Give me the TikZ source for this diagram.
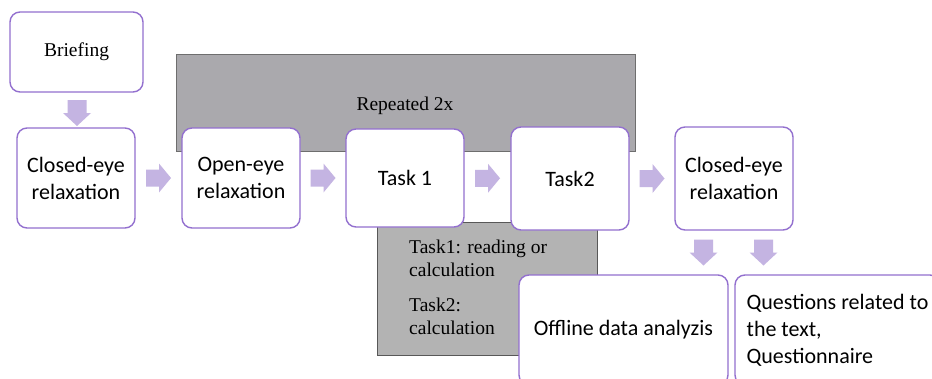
\documentclass[tikz,border=0pt]{standalone}
\usepackage{fontspec}
\setmainfont{Liberation Serif}
\newfontfamily\sansf{Carlito}
\usetikzlibrary{calc}
\definecolor{boxline}{HTML}{9370CF}
\definecolor{arrowc}{HTML}{C4B4E2}
\definecolor{grayA}{HTML}{AAA9AD}
\definecolor{grayB}{HTML}{B3B3B3}
\definecolor{grayline}{HTML}{6E6E6E}
\begin{document}
\begin{tikzpicture}[x=1pt,y=-1pt,
  stepbox/.style={draw=boxline, line width=1.4pt, rounded corners=10pt, fill=white,
    inner sep=0pt, align=center, font=\sansf\fontsize{22}{27}\selectfont},
  briefbox/.style={stepbox, font=\fontsize{19.5}{23}\selectfont},
  grayboxA/.style={draw=grayline, line width=0.6pt, fill=grayA, inner sep=0pt},
  grayboxB/.style={draw=grayline!80!black, line width=0.8pt, fill=grayB, inner sep=0pt},
  seriftext/.style={inner sep=0pt, align=left, font=\fontsize{19.5}{23}\selectfont},
  rarrow/.pic={\fill[arrowc] (-12.5,-8.5) -- (0.5,-8.5) -- (0.5,-14.5) -- (12.5,0) -- (0.5,14.5) -- (0.5,8.5) -- (-12.5,8.5) -- cycle;},
  darrow/.pic={\fill[arrowc] (-9.5,-13) -- (9.5,-13) -- (9.5,0) -- (14,0) -- (0,13) -- (-14,0) -- (-9.5,0) -- cycle;}
]
\useasboundingbox (0,0) rectangle (932,378);
\clip (0,0) rectangle (932,378);
\fill[white] (0,0) rectangle (932,378);

% background gray panels
\node[grayboxA, minimum width=459pt, minimum height=97pt] (rep) at (405.5,102.5) {};
\node[seriftext, anchor=center] (reptext) at (405,106) {Repeated 2x};
\node[grayboxB, minimum width=220pt, minimum height=133pt] (tasks) at (487,288.5) {};
\node[seriftext, anchor=base west] (t1text) at (409,276) {Task1: reading or\\calculation};
\node[seriftext, anchor=base west] (t2text) at (409,334) {Task2:\\calculation};

% step boxes
\node[briefbox, minimum width=133pt, minimum height=80pt] (brief) at (76.5,52) {Briefing};
\node[stepbox, minimum width=118pt, minimum height=100pt] (closed1) at (76,178) {Closed-eye\\relaxation};
\node[stepbox, minimum width=118pt, minimum height=100pt] (open) at (241,178) {Open-eye\\relaxation};
\node[stepbox, minimum width=118pt, minimum height=98pt] (task1) at (405,178) {Task 1};
\node[stepbox, minimum width=118pt, minimum height=103pt] (task2) at (570,178.5) {Task2};
\node[stepbox, minimum width=118pt, minimum height=103pt] (closed2) at (734,178.5) {Closed-eye\\relaxation};
\node[stepbox, minimum width=209pt, minimum height=110pt] (offline) at (623.5,330) {Offline data analyzis};
\node[stepbox, align=left, minimum width=205pt, minimum height=110pt] (quest) at (837.5,330) {Questions related to\\the text,\\Questionnaire};

% block arrows
\pic at (77,113) {darrow};
\pic at ($(closed1.east)!0.5!(open.west)$) {rarrow};
\pic at ($(open.east)!0.5!(task1.west)$) {rarrow};
\pic at ($(task1.east)!0.5!(task2.west)$) {rarrow};
\pic at ($(task2.east)!0.5!(closed2.west)$) {rarrow};
\pic at (703.5,252.5) {darrow};
\pic at (763.5,252.5) {darrow};
\end{tikzpicture}
\end{document}
